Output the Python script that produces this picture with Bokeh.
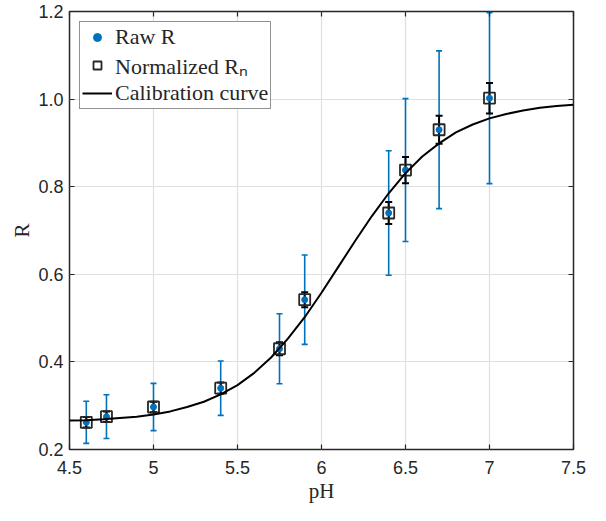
import numpy as np
from bokeh.plotting import figure
from bokeh.models import (ColumnDataSource, Whisker, TeeHead, Range1d, FixedTicker,
                          LinearAxis, Legend, LegendItem)
from bokeh.embed import file_html
from bokeh.resources import INLINE

# ---- data ----
ph = [4.6, 4.72, 5.0, 5.4, 5.75, 5.9, 6.4, 6.5, 6.7, 7.0]
r_vals = [0.262, 0.275, 0.297, 0.340, 0.430, 0.542, 0.740, 0.838, 0.930, 1.002]
raw_err = [0.048, 0.050, 0.054, 0.062, 0.080, 0.102, 0.142, 0.163, 0.180, 0.195]
norm_err = [0.012, 0.012, 0.012, 0.013, 0.015, 0.017, 0.025, 0.030, 0.032, 0.035]

curve_ph = [4.5, 4.6, 4.7, 4.8, 4.9, 5.0, 5.1, 5.2, 5.3, 5.4, 5.5, 5.6, 5.7, 5.8, 5.9,
            6.0, 6.1, 6.2, 6.3, 6.4, 6.5, 6.6, 6.7, 6.8, 6.9, 7.0, 7.1, 7.2, 7.3, 7.4, 7.5]
curve_r = [0.266, 0.267, 0.269, 0.272, 0.275, 0.280, 0.287, 0.297, 0.309, 0.326,
           0.347, 0.375, 0.410, 0.453, 0.502, 0.558, 0.617, 0.676, 0.733, 0.785,
           0.831, 0.869, 0.899, 0.924, 0.942, 0.956, 0.966, 0.974, 0.980, 0.984, 0.987]

x_ticks = [4.5, 5.0, 5.5, 6.0, 6.5, 7.0, 7.5]
x_tick_labels = ["4.5", "5", "5.5", "6", "6.5", "7", "7.5"]
y_ticks = [0.2, 0.4, 0.6, 0.8, 1.0, 1.2]
y_tick_labels = ["0.2", "0.4", "0.6", "0.8", "1.0", "1.2"]

BLUE = "#0072BD"
DARK = "#262626"
TICK_FONT = "Liberation Sans"
SERIF = "Liberation Serif"

p = figure(width=590, height=505, output_backend="svg", toolbar_location=None,
           x_range=Range1d(4.5, 7.5), y_range=Range1d(0.2, 1.2),
           min_border_left=0, min_border_right=17, min_border_top=11, min_border_bottom=0)
p.background_fill_color = "white"
p.border_fill_color = "white"
p.outline_line_color = DARK
p.outline_line_width = 1.5

# axes
for ax in (p.xaxis[0], p.yaxis[0]):
    ax.axis_line_color = None
    ax.major_tick_in = 5
    ax.major_tick_out = 0
    ax.minor_tick_line_color = None
    ax.major_tick_line_color = DARK
    ax.major_tick_line_width = 1.2
    ax.major_label_text_font = TICK_FONT
    ax.major_label_text_font_size = "18px"
    ax.major_label_text_color = DARK
    ax.axis_label_text_font = SERIF
    ax.axis_label_text_font_style = "normal"
    ax.axis_label_text_font_size = "21px"
    ax.axis_label_text_color = DARK

p.xaxis[0].ticker = FixedTicker(ticks=x_ticks)
p.xaxis[0].major_label_overrides = {t: l for t, l in zip(x_ticks, x_tick_labels)}
p.xaxis[0].axis_label = "pH"
p.xaxis[0].major_label_standoff = 11
p.xaxis[0].axis_label_standoff = 2
p.yaxis[0].ticker = FixedTicker(ticks=y_ticks)
p.yaxis[0].major_label_overrides = {t: l for t, l in zip(y_ticks, y_tick_labels)}
p.yaxis[0].axis_label = "R"
p.yaxis[0].major_label_standoff = 6
p.yaxis[0].axis_label_standoff = 1

# box-style ticks on the top and right edges
for loc, ticks in (("above", x_ticks), ("right", y_ticks)):
    ax = LinearAxis(ticker=FixedTicker(ticks=ticks), axis_line_color=None,
                    major_tick_in=5, major_tick_out=0, major_tick_line_color=DARK,
                    major_tick_line_width=1.2, minor_tick_line_color=None,
                    major_label_text_font_size="1px", major_label_text_color=None,
                    major_label_standoff=0)
    p.add_layout(ax, loc)

# blank spacer axis on the far left (invisible ticks pointing outward)
spacer = LinearAxis(ticker=FixedTicker(ticks=y_ticks), axis_line_color=None,
                    major_tick_in=0, major_tick_out=7, major_tick_line_color=None,
                    minor_tick_line_color=None,
                    major_label_text_font_size="1px", major_label_text_color=None,
                    major_label_standoff=0)
p.add_layout(spacer, "left")

p.xgrid.ticker = FixedTicker(ticks=x_ticks)
p.ygrid.ticker = FixedTicker(ticks=y_ticks)
p.grid.grid_line_color = "#dfdfdf"
p.grid.grid_line_width = 1.2

ph_a = np.array(ph)
r_a = np.array(r_vals)
src = ColumnDataSource(dict(x=ph_a, r=r_a,
                            raw_lo=r_a - np.array(raw_err), raw_hi=r_a + np.array(raw_err),
                            n_lo=r_a - np.array(norm_err), n_hi=r_a + np.array(norm_err)))

# raw error bars
raw_w = Whisker(source=src, base="x", lower="raw_lo", upper="raw_hi", dimension="height",
                line_color=BLUE, line_width=1.6,
                upper_head=TeeHead(size=6, line_color=BLUE, line_width=1.6),
                lower_head=TeeHead(size=6, line_color=BLUE, line_width=1.6))
p.add_layout(raw_w)
raw_pts = p.scatter("x", "r", source=src, marker="circle", size=6,
                    fill_color=BLUE, line_color=BLUE)

# normalized error bars
n_w = Whisker(source=src, base="x", lower="n_lo", upper="n_hi", dimension="height",
              line_color="black", line_width=2,
              upper_head=TeeHead(size=7, line_color="black", line_width=2),
              lower_head=TeeHead(size=7, line_color="black", line_width=2))
p.add_layout(n_w)
n_pts = p.scatter("x", "r", source=src, marker="square", size=11,
                  fill_color=None, line_color=DARK, line_width=1.8)

curve = p.line(curve_ph, curve_r, line_color="black", line_width=2)

legend = Legend(items=[
    LegendItem(label="Raw R", renderers=[raw_pts]),
    LegendItem(label="Normalized Rₙ", renderers=[n_pts]),
    LegendItem(label="Calibration curve", renderers=[curve]),
], location="top_left")
legend.label_text_font = SERIF
legend.label_text_font_size = "22px"
legend.label_text_color = DARK
legend.border_line_color = DARK
legend.border_line_width = 1.5
legend.glyph_width = 30
legend.glyph_height = 20
legend.label_height = 20
legend.spacing = 0
legend.padding = 2
legend.margin = 10
legend.label_standoff = 3
p.add_layout(legend)

open("out.html", "w").write(file_html(p, INLINE))
